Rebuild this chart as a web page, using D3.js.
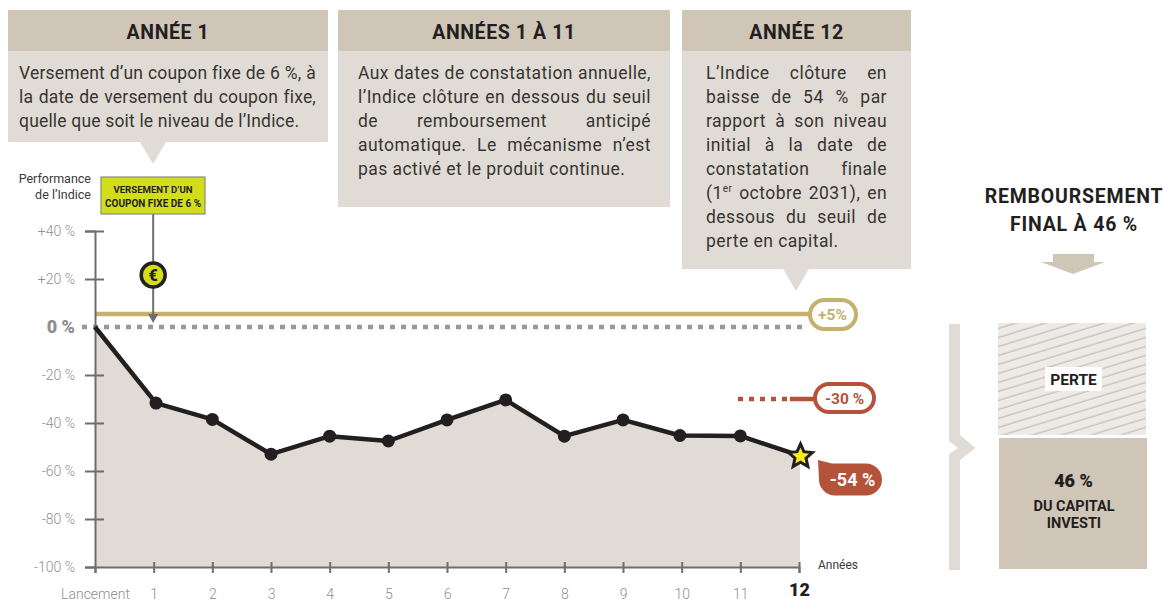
<!DOCTYPE html>
<html lang="fr"><head><meta charset="utf-8">
<script src="https://cdn.jsdelivr.net/npm/d3@7/dist/d3.min.js"></script>
<style>
html,body{margin:0;padding:0;background:#fff;overflow:hidden}
#c{position:relative;width:1163px;height:603px;font-family:Roboto,sans-serif}
svg{position:absolute;left:0;top:0}
.ln{position:absolute;font-size:17.5px;letter-spacing:.45px;line-height:24px;height:24px;color:#363533;white-space:nowrap;text-align:justify;text-align-last:justify}
.ln.end{text-align-last:left}
.ln.p0{letter-spacing:.18px}
.ln sup{font-size:10px;line-height:0}
text{font-family:Roboto,sans-serif}
</style></head><body><div id="c"></div>
<script>
const years=[0,1,2,3,4,5,6,7,8,9,10,11,12];
const pointYears=[0,1.04,2,3,4,5,6,7,8,9,9.97,11,12];
const performance=[0,-31.7,-38.5,-53,-45.5,-47.5,-38.7,-30.4,-45.5,-38.7,-45.2,-45.4,-53.5];
const yTicks=[40,20,0,-20,-40,-60,-80,-100];
const yTickLabels=["+40 %","+20 %","0 %","-20 %","-40 %","-60 %","-80 %","-100 %"];
const xTickLabels=["Lancement","1","2","3","4","5","6","7","8","9","10","11","12"];
const couponBarrier=5.4, capitalBarrier=-30;
const panelTitles=["ANNÉE 1","ANNÉES 1 À 11","ANNÉE 12"];
const panelLines=[
 ["Versement d’un coupon fixe de 6 %, à","la date de versement du coupon fixe,","quelle que soit le niveau de l’Indice."],
 ["Aux dates de constatation annuelle,","l’Indice clôture en dessous du seuil","de remboursement anticipé","automatique. Le mécanisme n’est","pas activé et le produit continue."],
 ["L’Indice clôture en","baisse de 54 % par","rapport à son niveau","initial à la date de","constatation finale","(1<sup>er</sup> octobre 2031), en","dessous du seuil de","perte en capital."]
];
const panelBoxes=[{x:8,w:320,h:132,tx:19,tw:297,arrow:153},{x:338,w:332,h:197,tx:358,tw:293},{x:682,w:229,h:259,tx:706,tw:181,arrow:796}];

const root=d3.select("#c");
const svg=root.append("svg").attr("width",1163).attr("height",603);
const defs=svg.append("defs");
const pat=defs.append("pattern").attr("id","hatch").attr("patternUnits","userSpaceOnUse").attr("width",40).attr("height",8.6).attr("patternTransform","rotate(-17)");
pat.append("rect").attr("width",40).attr("height",8.6).attr("fill","#eeebe6");
pat.append("line").attr("x1",0).attr("x2",40).attr("y1",4).attr("y2",4).attr("stroke","#9d9a93").attr("stroke-width",.7);

const x=d3.scaleLinear().domain([0,12]).range([95,799]);
const y=d3.scaleLinear().domain([0,-100]).range([327,567]);
const DARK="#231f20",LIGHT="#e0dcd5",HEAD="#cfc6b8",GOLD="#c6b16c",RUST="#b5533a",GREY="#6e6e6e",LBL="#8f8f8f",LIME="#d3de1b";
const px=i=>x(pointYears[i]);

// panels
panelBoxes.forEach((b,i)=>{
  svg.append("rect").attr("x",b.x).attr("y",10).attr("width",b.w).attr("height",b.h).attr("fill",LIGHT);
  svg.append("rect").attr("x",b.x).attr("y",10).attr("width",b.w).attr("height",41).attr("fill",HEAD);
  if(b.arrow){const by=10+b.h;svg.append("path").attr("d",`M${b.arrow-13},${by}L${b.arrow+13},${by}L${b.arrow},${by+22}Z`).attr("fill",LIGHT);}
  svg.append("text").attr("x",b.x+b.w/2).attr("y",39).attr("text-anchor","middle").attr("font-size",19.5).attr("font-weight",700).attr("letter-spacing",.6).attr("fill",DARK).text(panelTitles[i]);
  panelLines[i].forEach((t,j,a)=>{
    root.append("div").attr("class","ln p"+i+(j===a.length-1?" end":"")).style("left",b.tx+"px").style("top",(61+j*24)+"px").style("width",b.tw+"px").html(t);
  });
});

// area
svg.append("path").datum(years).attr("fill",LIGHT)
  .attr("d",d3.area().x(d=>d===12?x(12)+1:px(d)).y0(y(-100)).y1(d=>y(performance[d])));

// barriers
svg.append("line").attr("x1",x(0)).attr("x2",812).attr("y1",y(couponBarrier)).attr("y2",y(couponBarrier)).attr("stroke",GOLD).attr("stroke-width",4.5);
svg.append("line").attr("x1",82).attr("x2",802).attr("y1",y(0)).attr("y2",y(0)).attr("stroke","#98989b").attr("stroke-width",4.5).attr("stroke-dasharray","5 6");
svg.append("line").attr("x1",738).attr("x2",792).attr("y1",y(capitalBarrier)).attr("y2",y(capitalBarrier)).attr("stroke",RUST).attr("stroke-width",4.5).attr("stroke-dasharray","5 6");
svg.append("line").attr("x1",790).attr("x2",816).attr("y1",y(capitalBarrier)).attr("y2",y(capitalBarrier)).attr("stroke",RUST).attr("stroke-width",4.5);

// axes
const ya=svg.append("g").attr("transform",`translate(${x(0)},0)`)
  .call(d3.axisLeft(d3.scaleLinear().domain([-100,40]).range([567,231])).tickValues(yTicks).tickSizeOuter(0).tickSize(10).tickPadding(10).tickFormat((d,i)=>yTickLabels[i]));
ya.select(".domain").attr("stroke",GREY).attr("stroke-width",2);
ya.selectAll(".tick line").attr("stroke",GREY).attr("stroke-width",2).attr("x1",d=>d===-100?0:9).attr("x2",-10).attr("display",d=>d===0?"none":null);
ya.selectAll(".tick text").attr("font-family","Roboto,sans-serif").attr("font-size",d=>d===0?18:14).attr("font-weight",d=>d===0?900:300)
  .attr("fill",LBL).attr("x",-20);

const xa=svg.append("g").attr("transform",`translate(0,${y(-100)})`)
  .call(d3.axisBottom(x).tickValues(years).tickSizeOuter(0).tickSize(6).tickPadding(16).tickFormat((d,i)=>xTickLabels[i]));
xa.select(".domain").attr("stroke",GREY).attr("stroke-width",2);
xa.selectAll(".tick line").attr("stroke",GREY).attr("stroke-width",2).attr("y1",d=>d===0?0:-5);
xa.selectAll(".tick text").attr("font-family","Roboto,sans-serif").attr("font-size",d=>d===12?18:14).attr("font-weight",d=>d===12?900:300)
  .attr("fill",d=>d===12?DARK:LBL).attr("dy",d=>d===12?"0.4em":"0.71em");

// series
svg.append("path").datum(years).attr("fill","none").attr("stroke",DARK).attr("stroke-width",4.5).attr("stroke-linejoin","round")
  .attr("d",d3.line().x(d=>px(d)).y(d=>y(performance[d])));
svg.append("g").selectAll("circle").data(years.slice(1,12)).join("circle")
  .attr("cx",d=>px(d)).attr("cy",d=>y(performance[d])).attr("r",6.5).attr("fill",DARK);
const starPts=d3.range(10).map(i=>[i%2?5.8:12.5,i*Math.PI/5]);
svg.append("path").attr("transform",`translate(${x(12)+1.5},${y(performance[12])+1})`)
  .attr("d",d3.lineRadial().radius(d=>d[0]).angle(d=>d[1]).curve(d3.curveLinearClosed)(starPts))
  .attr("fill","#f8ec1e").attr("stroke",DARK).attr("stroke-width",3).attr("stroke-linejoin","miter").attr("stroke-miterlimit",3);

// labels
const t=(s,tx,ty,o={})=>svg.append("text").attr("x",tx).attr("y",ty).attr("text-anchor",o.a||"middle").attr("font-size",o.s||14).attr("font-weight",o.w||400).attr("fill",o.f||DARK).attr("letter-spacing",o.ls||0).text(s);
t("Performance",91,183,{a:"end",s:12.5,f:"#3b3a38"});
t("de l’Indice",91,199,{a:"end",s:12.5,f:"#3b3a38"});
t("Années",818,569,{a:"start",s:12,f:"#3b3a38"});

// coupon marker
svg.append("line").attr("x1",x(1)-.5).attr("x2",x(1)-.5).attr("y1",214).attr("y2",316).attr("stroke",GREY).attr("stroke-width",2);
svg.append("path").attr("d",`M${x(1)-5.5},314L${x(1)+4.5},314L${x(1)-.5},323Z`).attr("fill",GREY);
svg.append("rect").attr("x",101).attr("y",177).attr("width",104).attr("height",37).attr("fill",LIME).attr("stroke","#8b8b82").attr("stroke-width",1.2);
t("VERSEMENT D’UN",153,193,{s:9.6,w:700});
t("COUPON FIXE DE 6 %",153,207,{s:10,w:700});
svg.append("circle").attr("cx",x(1)-.5).attr("cy",275).attr("r",12).attr("fill",LIME).attr("stroke",DARK).attr("stroke-width",3.5);
t("€",x(1)-.5,281,{s:16,w:900});

// pills
svg.append("rect").attr("x",810).attr("y",300).attr("width",46).attr("height",29).attr("rx",14.5).attr("fill","#fff").attr("stroke",GOLD).attr("stroke-width",4);
t("+5%",832.5,319.5,{s:15.5,w:700,f:GOLD});
svg.append("rect").attr("x",815).attr("y",384).attr("width",59).attr("height",28).attr("rx",14).attr("fill","#fff").attr("stroke",RUST).attr("stroke-width",4);
t("-30 %",844.5,403.5,{s:15.5,w:700,f:RUST});
svg.append("path").attr("d","M818,460L832,463.5H866A16,16 0 0 1 866,495.5H835A16,16 0 0 1 819,479.5Z").attr("fill",RUST);
t("-54 %",852.5,486,{s:18,w:700,f:"#fff"});

// right block
t("REMBOURSEMENT",1074,203,{s:19.5,w:700,ls:.8});
t("FINAL À 46 %",1074,231,{s:19.5,w:700,ls:.8});
svg.append("path").attr("d","M1053,254H1094V262H1105L1073,274L1041,262H1053Z").attr("fill",HEAD);
svg.append("path").attr("d","M949,324H960V435L975.5,448L960,460V570H949V454L958,448L949,441Z").attr("fill",LIGHT);
svg.append("rect").attr("x",998).attr("y",323).attr("width",148).attr("height",112).attr("fill","url(#hatch)");
svg.append("rect").attr("x",999).attr("y",438).attr("width",148).attr("height",131).attr("fill",HEAD);
svg.append("rect").attr("x",1045).attr("y",367).attr("width",57).attr("height",24).attr("fill","#fff");
t("PERTE",1073.5,385,{s:15.5,w:700});
t("46 %",1073.5,487,{s:18,w:900});
t("DU CAPITAL",1074,511,{s:14.5,w:700});
t("INVESTI",1074,528,{s:14.5,w:700});
</script></body></html>
